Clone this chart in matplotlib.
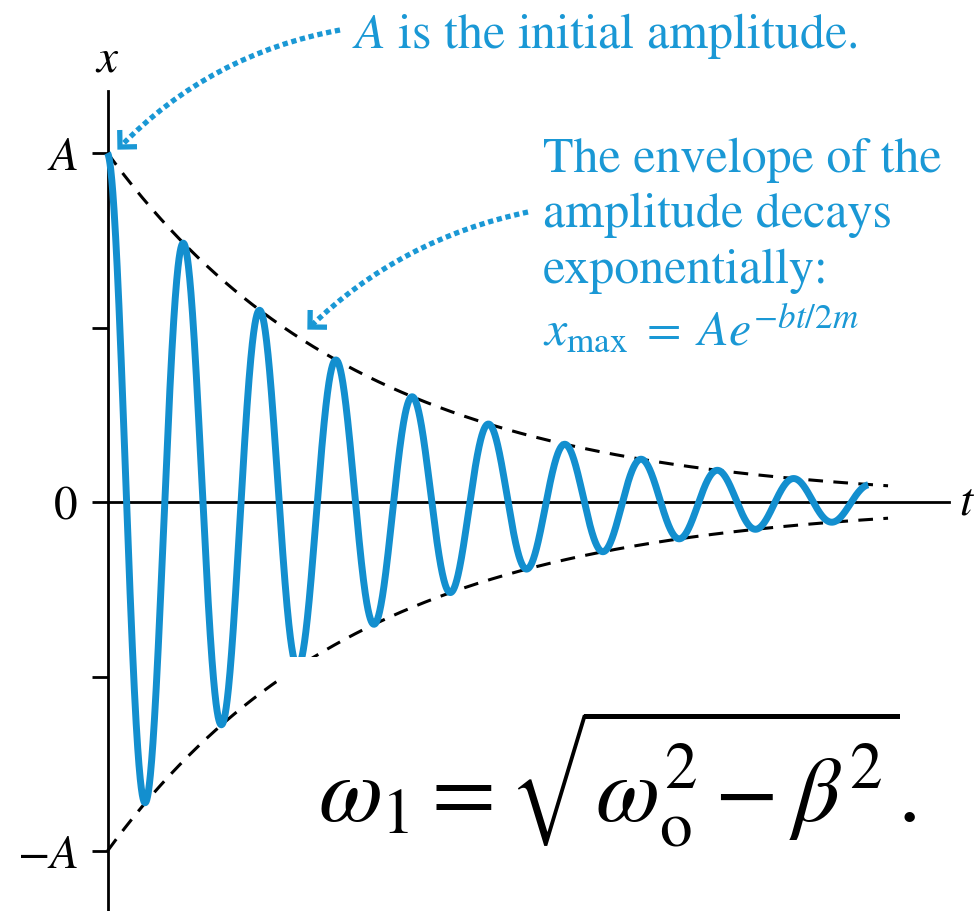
import numpy as np
import matplotlib
matplotlib.use("Agg")
import matplotlib.pyplot as plt
from matplotlib.path import Path
from matplotlib.patches import PathPatch, Rectangle
from matplotlib.lines import Line2D
from matplotlib.transforms import Affine2D

plt.rcParams['mathtext.fontset'] = 'stix'
plt.rcParams['font.family'] = ['STIXGeneral', 'DejaVu Serif']

# Damped oscillator: time in oscillation periods, displacement in units of A
amplitude = 1.0
decay_rate = 0.30            # b/2m, per period
angular_freq = 2 * np.pi     # omega_1, per period
t_curve_end = 9.97
t_envelope_end = 10.23

y_tick_values = [1.0, 0.5, 0.0, -0.5, -1.0]
y_tick_labels = ['$A$', '', '0', '', '$-A$']

note_top = '$A$ is the initial amplitude.'
note_envelope = ['The envelope of the', 'amplitude decays', 'exponentially:']
note_formula = r'$x_{\mathrm{max}}\;=\;Ae^{-bt/2m}$'
freq_formula = r'$\omega_1 = \sqrt{\omega_{\mathrm{o}}^2 - \beta^2}.$'

BLUE_LINE = '#138fcf'
BLUE_TEXT = '#1a98d5'

W, H = 976, 912
fig = plt.figure(figsize=(W / 100, H / 100), dpi=100)
fig.patch.set_facecolor('white')

# layout in pixels (origin top-left)
axis_x, axis_right, axis_top, zero_y, px_per_A, px_per_T = 107.5, 949, 92, 503, 349, 76.3


def fx(px):
    return px / W


def fy(py):
    return 1 - py / H


pix = Affine2D().scale(1 / W, -1 / H).translate(0, 1) + fig.transFigure

ax = fig.add_axes([fx(axis_x), 0, fx(axis_right) - fx(axis_x), fy(axis_top)])
ax.set_xlim(0, (axis_right - axis_x) / px_per_T)
ax.set_ylim(-(H - zero_y) / px_per_A, (zero_y - axis_top) / px_per_A)
ax.set_facecolor('none')

for s in ['top', 'right']:
    ax.spines[s].set_visible(False)
ax.spines['bottom'].set_position(('data', 0))
for s in ['left', 'bottom']:
    ax.spines[s].set_linewidth(2.0)
    ax.spines[s].set_color('black')

ax.set_xticks([])
ax.set_yticks(y_tick_values)
ax.set_yticklabels(y_tick_labels, fontsize=34)
ax.tick_params(axis='y', direction='out', length=11.5, width=2.0, pad=10)

# envelope
t_env = np.linspace(0, t_envelope_end, 600)
env = amplitude * np.exp(-decay_rate * t_env)
for sign in (1, -1):
    ax.plot(t_env, sign * env, color='black', lw=2.2,
            dashes=(4.8, 3.4), clip_on=False, zorder=3)

# oscillation
t = np.linspace(0, t_curve_end, 3000)
x = amplitude * np.exp(-decay_rate * t) * np.cos(angular_freq * t)
ax.plot(t, x, color=BLUE_LINE, lw=5.0, clip_on=False, zorder=4,
        solid_capstyle='butt')

# axis names
fig.text(fx(107), fy(60), '$x$', fontsize=34, ha='center', va='center')
fig.text(fx(959), fy(503), '$t$', fontsize=34, ha='left', va='center')

# white panel carrying the frequency relation
fig.patches.append(Rectangle((fx(277), 0), 1 - fx(277), fy(658),
                             transform=fig.transFigure, facecolor='white',
                             edgecolor='none', zorder=5))
fig.text(fx(318), fy(822), freq_formula, fontsize=67, ha='left',
         va='baseline', color='black', zorder=6)

# notes
fig.text(fx(352), fy(48), note_top, fontsize=36, color=BLUE_TEXT,
         ha='left', va='baseline')
for i, line in enumerate(note_envelope):
    fig.text(fx(543), fy(172 + 55.5 * i), line, fontsize=36, color=BLUE_TEXT,
             ha='left', va='baseline')
fig.text(fx(543), fy(346), note_formula, fontsize=36, color=BLUE_TEXT,
         ha='left', va='baseline')


def dotted_arrow(p0, p1, p2, head=17):
    path = Path([p0, p1, p2], [Path.MOVETO, Path.CURVE3, Path.CURVE3])
    fig.patches.append(PathPatch(path, transform=pix, facecolor='none',
                                 edgecolor=BLUE_TEXT, lw=3.8,
                                 linestyle=(0, (1.0, 0.7)), capstyle='butt',
                                 zorder=7))
    d = np.array(p2, float) - np.array(p1, float)
    d /= np.hypot(*d)
    back = -d
    arms = []
    for ang in (np.pi / 4, -np.pi / 4):
        c, s = np.cos(ang), np.sin(ang)
        r = np.array([c * back[0] - s * back[1], s * back[0] + c * back[1]])
        arms.append(np.array(p2) + head * r)
    xs = [arms[0][0], p2[0], arms[1][0]]
    ys = [arms[0][1], p2[1], arms[1][1]]
    fig.lines.append(Line2D(xs, ys, transform=pix, color=BLUE_TEXT, lw=3.8,
                            solid_joinstyle='miter', solid_capstyle='butt',
                            zorder=7))


dotted_arrow((340, 31), (210, 55), (120, 148))
dotted_arrow((528, 213), (400, 240), (310, 328))

fig.savefig('out.png', dpi=100, facecolor='white')
